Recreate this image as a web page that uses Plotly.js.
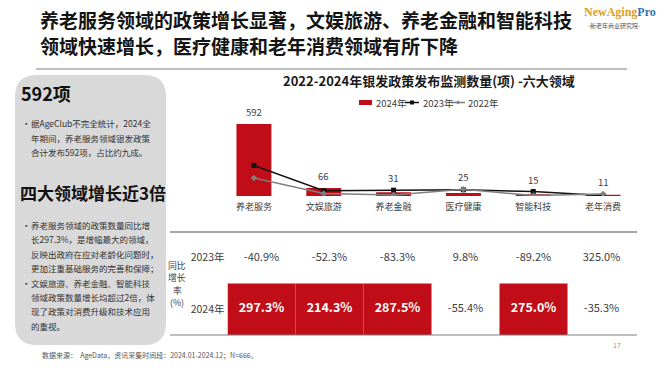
<!DOCTYPE html>
<html><head><meta charset="utf-8">
<script src="https://cdn.plot.ly/plotly-3.0.1.min.js"></script>
<style>html,body{margin:0;padding:0;background:#fff;}#chart{width:660px;height:369px;}</style>
</head><body><div id="chart"></div>
<script>
// ---- data ----
const categories = ['养老服务','文娱旅游','养老金融','医疗健康','智能科技','老年消费'];
const values2024 = [592, 66, 31, 25, 15, 11];
const values2023 = [252, 44, 48, 51, 37, 4];
const values2022 = [149, 21, 8, 56, 4, 17];
const seriesNames = ['2024年','2023年','2022年'];
const rowLabels = ['2023年','2024年'];
const growth2023 = [-40.9, -52.3, -83.3, 9.8, -89.2, 325.0];
const growth2024 = [297.3, 214.3, 287.5, -55.4, 275.0, -35.3];
const rateLabelLines = ['同比','增长','率','(%)'];

const pageTitle = ['养老服务领域的政策增长显著，文娱旅游、养老金融和智能科技','领域快速增长，医疗健康和老年消费领域有所下降'];
const chartTitle = '2022-2024年银发政策发布监测数量(项) -六大领域';
const box1Head = '592项';
const box1Lines = ['据AgeClub不完全统计，2024全','年期间，养老服务领域银发政策','合计发布592项，占比约九成。'];
const box2Head = '四大领域增长近3倍';
const box2Lines = ['养老服务领域的政策数量同比增','长297.3%，是增幅最大的领域，','反映出政府在应对老龄化问题时，','更加注重基础服务的完善和保障；','文娱旅游、养老金融、智能科技','领域政策数量增长均超过2倍，体','现了政策对消费升级和技术应用','的重视。'];
const box2Bullets = [0, 4];
const footer = '数据来源：  AgeData，资讯采集时间段：2024.01-2024.12；N=666。';
const pageNo = '17';

// ---- helpers ----
const W = 660, H = 369;
const px = x => x / W;
const py = y => 1 - y / H;
const RED = '#c10d18';
const CJK = 'Noto Sans CJK SC, sans-serif';
const TXT = '#404040';

function roundRect(x0, y0, x1, y1, r) {
  const X = v => px(v).toFixed(5), Y = v => py(v).toFixed(5);
  return `M${X(x0 + r)},${Y(y0)} L${X(x1 - r)},${Y(y0)} Q${X(x1)},${Y(y0)} ${X(x1)},${Y(y0 + r)} ` +
    `L${X(x1)},${Y(y1 - r)} Q${X(x1)},${Y(y1)} ${X(x1 - r)},${Y(y1)} L${X(x0 + r)},${Y(y1)} ` +
    `Q${X(x0)},${Y(y1)} ${X(x0)},${Y(y1 - r)} L${X(x0)},${Y(y0 + r)} Q${X(x0)},${Y(y0)} ${X(x0 + r)},${Y(y0)} Z`;
}

// ---- traces ----
const traces = [
  {type: 'bar', x: categories, y: values2024, name: seriesNames[0], marker: {color: RED}, width: 0.5,
   xaxis: 'x', yaxis: 'y', hoverinfo: 'skip', showlegend: false},
  {type: 'scatter', mode: 'lines+markers', x: categories, y: values2023, name: seriesNames[1],
   line: {color: '#111111', width: 1.5}, marker: {symbol: 'square', size: 5, color: '#111111'},
   xaxis: 'x', yaxis: 'y', hoverinfo: 'skip', showlegend: false},
  {type: 'scatter', mode: 'lines+markers', x: categories, y: values2022, name: seriesNames[2],
   line: {color: '#7f7f7f', width: 1.5}, marker: {symbol: 'diamond', size: 5, color: '#7f7f7f'},
   xaxis: 'x', yaxis: 'y', hoverinfo: 'skip', showlegend: false},
  // table highlight cells (2024 row)
  {type: 'bar', x: categories, y: growth2024.map(() => 1), base: growth2024.map(() => -0.5), width: 1,
   marker: {color: growth2024.map(v => v > 0 ? RED : 'rgba(0,0,0,0)'), line: {width: 0}},
   xaxis: 'x2', yaxis: 'y2', hoverinfo: 'skip', showlegend: false},
  {type: 'scatter', mode: 'text', x: categories, y: growth2023.map(() => 1),
   text: growth2023.map(v => v.toFixed(1) + '%'),
   textfont: {family: CJK, size: 11, color: TXT}, cliponaxis: false,
   xaxis: 'x2', yaxis: 'y2', hoverinfo: 'skip', showlegend: false},
  {type: 'scatter', mode: 'text', x: categories, y: growth2024.map(() => 0),
   text: growth2024.map(v => v > 0 ? '<b>' + v.toFixed(1) + '%</b>' : v.toFixed(1) + '%'),
   textfont: {family: CJK, size: growth2024.map(v => v > 0 ? 12.5 : 11), color: growth2024.map(v => v > 0 ? '#ffffff' : TXT)},
   cliponaxis: false, xaxis: 'x2', yaxis: 'y2', hoverinfo: 'skip', showlegend: false}
];

// ---- annotations ----
const ann = [];
const A = (text, x, y, o) => ann.push(Object.assign({text, x: px(x), y: py(y), xref: 'paper', yref: 'paper',
  showarrow: false, xanchor: 'left', yanchor: 'middle', font: {family: CJK, size: 9, color: TXT}}, o || {}));

// bar value labels, placed above the highest mark of each category
categories.forEach((c, i) => ann.push({
  text: String(values2024[i]), x: c, y: Math.max(values2024[i], values2023[i], values2022[i]),
  xref: 'x', yref: 'y', showarrow: false, xanchor: 'center', yanchor: 'bottom', yshift: 3,
  font: {family: CJK, size: 9.5, color: TXT}
}));

pageTitle.forEach((t, i) => A('<b>' + t + '</b>', 38, 20 + i * 25, {font: {family: CJK, size: 19, color: '#141414'}}));
A('<b>NewAging<span style="color:#2e75b6">Pro</span></b>', 582, 12, {font: {family: 'Liberation Serif, serif', size: 12, color: '#d9a01c'}});
A('-新老年商业研究院-', 586, 26, {font: {family: CJK, size: 6, color: '#555555'}});

A('<b>' + chartTitle + '</b>', 429, 81, {xanchor: 'center', font: {family: CJK, size: 13, color: '#1a1a1a'}});
A(seriesNames[0], 374, 102.5, {font: {family: CJK, size: 9.5, color: TXT}});
A(seriesNames[1], 421, 102.5, {font: {family: CJK, size: 9.5, color: TXT}});
A(seriesNames[2], 466, 102.5, {font: {family: CJK, size: 9.5, color: TXT}});

rateLabelLines.forEach((t, i) => A(t, 177, 265.5 + i * 12.4, {xanchor: 'center', borderpad: 0,
  font: {family: CJK, size: 8.8, color: TXT}}));

A('<b>' + box1Head + '</b>', 19, 93, {font: {family: CJK, size: 18, color: '#111111'}});
box1Lines.forEach((t, i) => A(t, 29, 123 + i * 14.5, {font: {family: CJK, size: 8.5, color: '#333333'}}));
A('•', 20, 123, {font: {family: CJK, size: 8.5, color: '#333333'}});
A('<b>' + box2Head + '</b>', 18, 193, {font: {family: CJK, size: 17, color: '#111111'}});
box2Lines.forEach((t, i) => A(t, 29, 225 + i * 14.4, {font: {family: CJK, size: 8.5, color: '#333333'}}));
box2Bullets.forEach(i => A('•', 20, 225 + i * 14.4, {font: {family: CJK, size: 8.5, color: '#333333'}}));

A(footer, 40, 355, {font: {family: CJK, size: 7, color: '#555555'}});
A(pageNo, 617, 345, {xanchor: 'center', font: {family: CJK, size: 7, color: '#999999'}});

// ---- shapes ----
const S = (o) => Object.assign({xref: 'paper', yref: 'paper'}, o);
const shapes = [
  S({type: 'path', path: roundRect(15, 75, 166, 345, 22), fillcolor: '#d9d9d9', line: {width: 0}, layer: 'below'}),
  S({type: 'line', x0: px(36), x1: px(627), y0: py(69), y1: py(69), line: {color: '#bfbfbf', width: 2}}),
  S({type: 'line', x0: px(170), x1: px(637), y0: py(232), y1: py(232), line: {color: '#a6a6a6', width: 2}}),
  S({type: 'line', x0: px(170), x1: px(637), y0: py(335), y1: py(335), line: {color: '#7f7f7f', width: 1.2}}),
  // legend symbols
  S({type: 'rect', x0: px(359), x1: px(372), y0: py(100), y1: py(105), fillcolor: RED, line: {width: 0}}),
  S({type: 'line', x0: px(405), x1: px(419), y0: py(102.5), y1: py(102.5), line: {color: '#111111', width: 1.5}}),
  S({type: 'rect', x0: px(410), x1: px(414), y0: py(100.5), y1: py(104.5), fillcolor: '#111111', line: {width: 0}}),
  S({type: 'line', x0: px(451), x1: px(465), y0: py(102.5), y1: py(102.5), line: {color: '#7f7f7f', width: 1.5}}),
  S({type: 'path', path: `M${px(458)},${py(100.5)} L${px(460)},${py(102.5)} L${px(458)},${py(104.5)} L${px(456)},${py(102.5)} Z`, fillcolor: '#7f7f7f', line: {width: 0}})
];

const layout = {
  width: W, height: H, margin: {l: 0, r: 0, t: 0, b: 0},
  paper_bgcolor: '#ffffff', plot_bgcolor: 'rgba(0,0,0,0)',
  showlegend: false, barmode: 'overlay',
  xaxis: {domain: [px(219), px(638)], type: 'category', range: [-0.5, 5.5], anchor: 'y',
    showgrid: false, zeroline: false, showline: false, ticks: '',
    tickfont: {family: CJK, size: 9, color: TXT}, ticklabelstandoff: 4, fixedrange: true},
  yaxis: {domain: [py(196), py(117)], range: [0, 650], visible: false, fixedrange: true},
  xaxis2: {domain: [px(227.5), px(635.5)], type: 'category', range: [-0.5, 5.5], anchor: 'y2',
    visible: false, fixedrange: true},
  yaxis2: {domain: [py(335), py(232)], range: [-0.5, 1.5], anchor: 'x2', showgrid: false, zeroline: false,
    showline: false, ticks: '', tickvals: [1, 0], ticktext: rowLabels, ticklabelstandoff: 2,
    tickfont: {family: CJK, size: 10.5, color: TXT}, fixedrange: true},
  annotations: ann, shapes: shapes
};

Plotly.newPlot('chart', traces, layout, {staticPlot: true, displayModeBar: false});
</script></body></html>
